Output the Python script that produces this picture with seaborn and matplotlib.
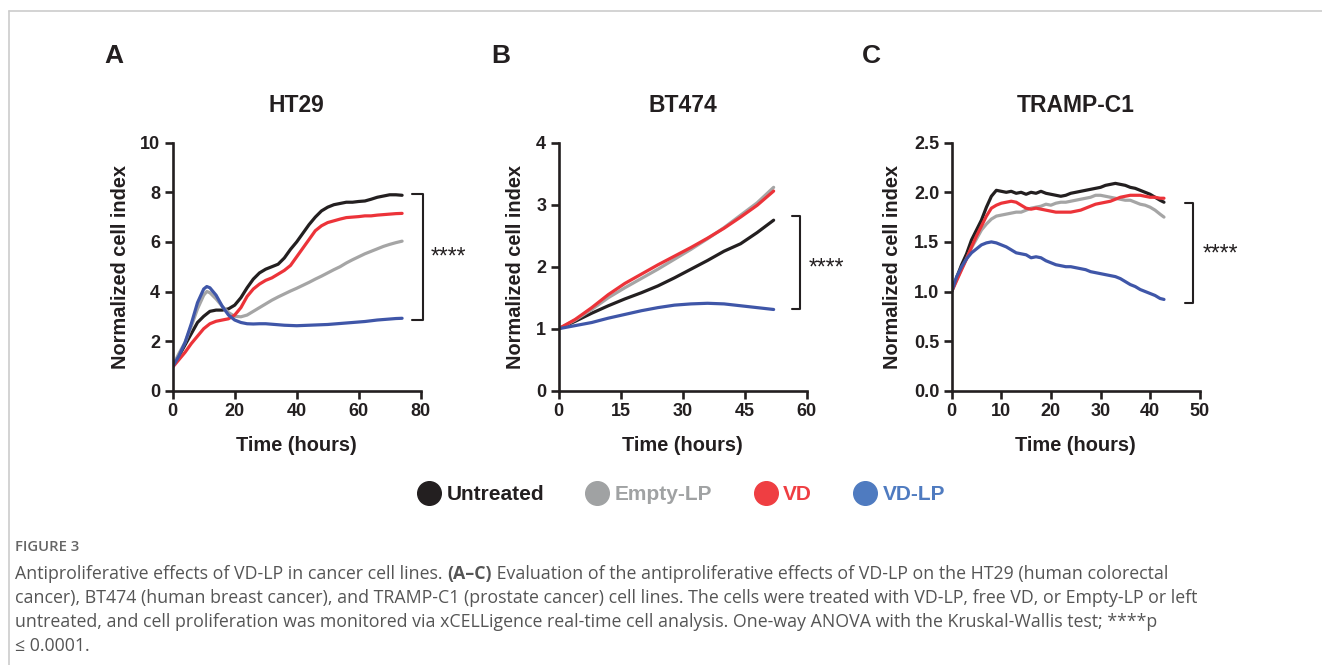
import pandas as pd
import matplotlib.pyplot as plt
import seaborn as sns
from matplotlib.lines import Line2D
from matplotlib.text import Annotation

# ---- data ----
groups = ['Untreated', 'Empty-LP', 'VD', 'VD-LP']
colors = ['#231f20', '#a5a5a5', '#ec3339', '#3f56a8']
legend_colors = ['#231f20', '#a0a2a3', '#ef3e42', '#4f7bc0']

# A: HT29
time_a = [0, 2, 4, 6, 8, 10, 11, 12, 14, 16, 18, 20, 22, 24, 26, 28, 30, 32, 34, 36,
          38, 40, 42, 44, 46, 48, 50, 52, 54, 56, 58, 60, 62, 64, 66, 68, 70, 72, 74]
untreated_a = [1.0, 1.4, 1.85, 2.3, 2.75, 3.0, 3.1, 3.2, 3.25, 3.25, 3.3, 3.45, 3.75, 4.15,
               4.5, 4.75, 4.9, 5.0, 5.1, 5.35, 5.7, 6.0, 6.35, 6.7, 7.0, 7.25, 7.4, 7.5,
               7.55, 7.6, 7.6, 7.63, 7.65, 7.72, 7.8, 7.85, 7.9, 7.9, 7.88]
empty_a = [1.0, 1.5, 1.95, 2.6, 3.3, 3.85, 4.0, 3.95, 3.7, 3.4, 3.15, 3.0, 2.98, 3.05,
           3.2, 3.35, 3.5, 3.65, 3.78, 3.9, 4.02, 4.13, 4.25, 4.37, 4.5, 4.62, 4.75, 4.88,
           5.0, 5.15, 5.28, 5.4, 5.52, 5.62, 5.72, 5.82, 5.9, 5.97, 6.03]
vd_a = [0.95, 1.25, 1.55, 1.9, 2.2, 2.5, 2.6, 2.7, 2.8, 2.85, 2.9, 3.05, 3.35, 3.8,
        4.1, 4.3, 4.45, 4.55, 4.7, 4.85, 5.05, 5.4, 5.75, 6.1, 6.45, 6.65, 6.78, 6.85,
        6.92, 6.98, 7.0, 7.02, 7.05, 7.05, 7.08, 7.1, 7.12, 7.14, 7.15]
vdlp_a = [0.97, 1.4, 1.95, 2.7, 3.55, 4.1, 4.2, 4.15, 3.85, 3.4, 3.05, 2.85, 2.75, 2.7,
          2.69, 2.7, 2.7, 2.68, 2.66, 2.64, 2.63, 2.62, 2.63, 2.64, 2.65, 2.66, 2.67, 2.69,
          2.71, 2.73, 2.75, 2.77, 2.79, 2.82, 2.85, 2.87, 2.89, 2.91, 2.92]

# B: BT474
time_b = [0, 4, 8, 12, 16, 20, 24, 28, 32, 36, 40, 44, 48, 52]
untreated_b = [1.0, 1.12, 1.25, 1.37, 1.48, 1.58, 1.69, 1.82, 1.96, 2.1, 2.25, 2.37, 2.55, 2.75]
empty_b = [1.0, 1.14, 1.31, 1.5, 1.66, 1.81, 1.96, 2.12, 2.28, 2.45, 2.63, 2.83, 3.03, 3.28]
vd_b = [1.0, 1.15, 1.34, 1.55, 1.73, 1.88, 2.03, 2.17, 2.31, 2.46, 2.62, 2.8, 2.99, 3.22]
vdlp_b = [1.0, 1.05, 1.1, 1.17, 1.23, 1.29, 1.34, 1.38, 1.4, 1.41, 1.4, 1.37, 1.34, 1.31]

# C: TRAMP-C1
time_c = [0, 1, 2, 3, 4, 5, 6, 7, 8, 9, 10, 11, 12, 13, 14, 15, 16, 17, 18, 19, 20, 21,
          22, 23, 24, 25, 26, 27, 28, 29, 30, 31, 32, 33, 34, 35, 36, 37, 38, 39, 40, 41,
          42, 42.8]
untreated_c = [1.0, 1.14, 1.27, 1.38, 1.52, 1.62, 1.72, 1.85, 1.96, 2.02, 2.01, 2.0, 2.01,
               1.99, 2.0, 1.98, 2.0, 1.99, 2.01, 1.99, 1.98, 1.97, 1.96, 1.97, 1.99, 2.0,
               2.01, 2.02, 2.03, 2.04, 2.05, 2.07, 2.08, 2.09, 2.08, 2.07, 2.05, 2.04, 2.02,
               2.0, 1.98, 1.95, 1.92, 1.9]
empty_c = [1.0, 1.12, 1.23, 1.33, 1.44, 1.53, 1.62, 1.68, 1.73, 1.76, 1.77, 1.78, 1.79,
           1.8, 1.8, 1.82, 1.84, 1.85, 1.86, 1.88, 1.87, 1.89, 1.9, 1.9, 1.91, 1.92, 1.93,
           1.94, 1.95, 1.97, 1.97, 1.96, 1.95, 1.94, 1.93, 1.92, 1.92, 1.9, 1.88, 1.87,
           1.85, 1.82, 1.78, 1.75]
vd_c = [1.0, 1.11, 1.22, 1.33, 1.45, 1.56, 1.66, 1.76, 1.84, 1.87, 1.89, 1.9, 1.91, 1.9,
        1.87, 1.84, 1.83, 1.84, 1.83, 1.82, 1.81, 1.8, 1.8, 1.8, 1.8, 1.81, 1.82, 1.84,
        1.86, 1.88, 1.89, 1.9, 1.91, 1.93, 1.95, 1.96, 1.97, 1.97, 1.97, 1.96, 1.95, 1.95,
        1.94, 1.94]
vdlp_c = [1.0, 1.15, 1.25, 1.33, 1.39, 1.43, 1.47, 1.49, 1.5, 1.49, 1.47, 1.45, 1.42, 1.39,
          1.38, 1.37, 1.34, 1.35, 1.34, 1.31, 1.29, 1.27, 1.26, 1.25, 1.25, 1.24, 1.23,
          1.22, 1.2, 1.19, 1.18, 1.17, 1.16, 1.15, 1.13, 1.1, 1.07, 1.05, 1.02, 1.0, 0.98,
          0.96, 0.93, 0.92]


def long_df(t, series):
    rows = []
    for g, vals in zip(groups, series):
        for x, y in zip(t, vals):
            rows.append({'time': x, 'index': y, 'group': g})
    return pd.DataFrame(rows)


panels = [
    dict(letter='A', title='HT29', df=long_df(time_a, [untreated_a, empty_a, vd_a, vdlp_a]),
         xlim=80, xticks=[0, 20, 40, 60, 80], ylim=10, yticks=[0, 2, 4, 6, 8, 10], yfmt='{:g}',
         left=172.7, ylab_x=-0.2125, bracket=(77.2, 80.8, 2.85, 7.93), stars=(89.1, 5.4), letter_x=104),
    dict(letter='B', title='BT474', df=long_df(time_b, [untreated_b, empty_b, vd_b, vdlp_b]),
         xlim=60, xticks=[0, 15, 30, 45, 60], ylim=4, yticks=[0, 1, 2, 3, 4], yfmt='{:g}',
         left=558.7, ylab_x=-0.176, bracket=(56.4, 58.5, 1.31, 2.82), stars=(64.8, 1.98), letter_x=491),
    dict(letter='C', title='TRAMP-C1', df=long_df(time_c, [untreated_c, empty_c, vd_c, vdlp_c]),
         xlim=50, xticks=[0, 10, 20, 30, 40, 50], ylim=2.5, yticks=[0, 0.5, 1.0, 1.5, 2.0, 2.5],
         yfmt='{:.1f}', left=951.7, ylab_x=-0.237, bracket=(47.0, 48.7, 0.887, 1.89), stars=(54.1, 1.38),
         letter_x=862),
]

sns.set_style('ticks')
plt.rcParams['font.family'] = ['Liberation Sans', 'DejaVu Sans']
ink = '#231f20'

W, H = 1322, 665
fig = plt.figure(figsize=(W / 100, H / 100), dpi=100)

# page frame lines
fig.add_artist(Line2D([9 / W, 1], [1 - 11 / H, 1 - 11 / H], color='#cccccc', lw=1.2))
fig.add_artist(Line2D([9 / W, 9 / W], [0, 1 - 11 / H], color='#cccccc', lw=1.2))

for p in panels:
    ax = fig.add_axes([p['left'] / W, (H - 390.7) / H, 248 / W, 248 / H])
    sns.lineplot(data=p['df'], x='time', y='index', hue='group', hue_order=groups,
                 palette=colors, linewidth=2.3, legend=False, ax=ax, estimator=None)
    ax.set_xlim(0, p['xlim'])
    ax.set_ylim(0, p['ylim'])
    ax.set_xticks(p['xticks'])
    ax.set_yticks(p['yticks'])
    ax.set_yticklabels([p['yfmt'].format(v) for v in p['yticks']])
    for s in ['top', 'right']:
        ax.spines[s].set_visible(False)
    for s in ['left', 'bottom']:
        ax.spines[s].set_linewidth(1.9)
        ax.spines[s].set_color(ink)
    ax.tick_params(width=1.9, length=6, color=ink, labelsize=13, labelcolor=ink, pad=3)
    for lab in ax.get_xticklabels() + ax.get_yticklabels():
        lab.set_fontweight('bold')
    ax.set_xlabel('Time (hours)', fontsize=14.4, fontweight='bold', color=ink, va='center')
    ax.set_ylabel('Normalized cell index', fontsize=14.4, fontweight='bold', color=ink, va='center')
    ax.xaxis.set_label_coords(0.5, -0.219)
    ax.yaxis.set_label_coords(p['ylab_x'], 0.5)
    ax.set_title(p['title'], fontsize=16.5, fontweight='bold', color=ink, pad=22)

    x0, x1, y0, y1 = p['bracket']
    ax.plot([x0, x1, x1, x0], [y1, y1, y0, y0], color=ink, lw=1.5, clip_on=False)
    ax.text(p['stars'][0], p['stars'][1], '****', fontsize=16.5, color=ink, ha='center', va='center',
            clip_on=False)

    fig.text(p['letter_x'] / W, 1 - 56 / H, p['letter'], fontsize=19, fontweight='bold', color=ink,
             ha='left', va='center')

# legend
handles = [Line2D([], [], marker='o', linestyle='none', markersize=17, color=c) for c in legend_colors]
leg = fig.legend(handles, groups, loc='center', bbox_to_anchor=(682 / W, 1 - 495 / H), ncol=4,
                 frameon=False, handlelength=1.0, handletextpad=0.35, columnspacing=2.05,
                 prop={'weight': 'bold', 'size': 15}, labelcolor=legend_colors)

# caption
cap_font = ['Open Sans', 'DejaVu Sans']
cap_color = '#555555'
cap_size = 12.8
fig.text(15 / W, 1 - 547 / H, 'FIGURE 3', fontsize=10.7, fontweight='semibold', color='#666666',
         family=cap_font, va='center')

t1 = fig.text(15 / W, 1 - 574 / H, 'Antiproliferative effects of VD-LP in cancer cell lines. ',
              fontsize=cap_size, color=cap_color, family=cap_font, va='center')
t2 = fig.add_artist(Annotation('(A\u2013C)', xy=(1, 0), xycoords=t1, va='bottom', ha='left',
                               fontsize=cap_size, fontweight='bold', color=cap_color, family=cap_font))
fig.add_artist(Annotation(' Evaluation of the antiproliferative effects of VD-LP on the HT29 (human colorectal',
                          xy=(1, 0), xycoords=t2, va='bottom', ha='left',
                          fontsize=cap_size, color=cap_color, family=cap_font))
cap_lines = [
    'cancer), BT474 (human breast cancer), and TRAMP-C1 (prostate cancer) cell lines. '
    'The cells were treated with VD-LP, free VD, or Empty-LP or left',
    'untreated, and cell proliferation was monitored via xCELLigence real-time cell analysis. '
    'One-way ANOVA with the Kruskal-Wallis test; ****p',
    '\u2264 0.0001.',
]
for i, line in enumerate(cap_lines):
    fig.text(15 / W, 1 - (598 + 24 * i) / H, line, fontsize=cap_size, color=cap_color,
             family=cap_font, va='center')

fig.savefig('out.png', dpi=100)
